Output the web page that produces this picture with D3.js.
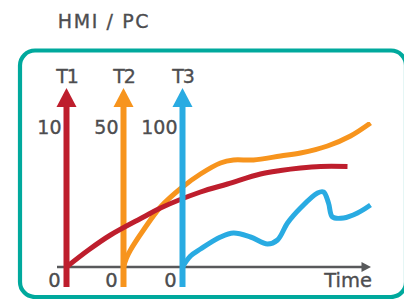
<!DOCTYPE html>
<html>
<head>
<meta charset="utf-8">
<script src="https://cdn.jsdelivr.net/npm/d3@7/dist/d3.min.js"></script>
<style>
html,body{margin:0;padding:0;background:#fff;}
svg{display:block;}
text{font-family:"DejaVu Sans",sans-serif;fill:#4d4d4f;stroke:#4d4d4f;stroke-width:0.35px;}
</style>
</head>
<body>
<svg id="chart" width="404" height="299"></svg>
<script>
// ---- data ----
const title = "HMI / PC";
const seriesNames = ["T1", "T2", "T3"];
const seriesMax = ["10", "50", "100"];
const seriesStart = [0, 57, 116];          // time at which each series starts
const seriesColors = ["#be1e2d", "#f7941d", "#29abe2"];
const axisLabel = "Time";
const zeroLabel = "0";

const t1Time  = [0, 22, 44, 77, 94, 134, 161, 194, 214, 234, 254, 281];
const t1Value = [0, 17, 32, 50, 59, 75, 83, 93, 96.5, 99, 100.5, 100.5];

const t2Time  = [57, 60, 64, 77, 94, 116, 134, 154, 167, 187, 214, 234, 261, 284, 304];
const t2Value = [0, 9, 17, 37, 60, 80, 93, 104, 107, 107, 111, 114, 121, 131, 144];

const t3Time  = [116, 124, 134, 154, 167, 184, 201, 211, 221, 234, 251, 257, 262, 266, 277, 291, 304];
const t3Value = [0, 11, 18, 30, 34, 30, 23, 27, 44, 59, 74, 75, 64, 50, 49, 54, 62];

// ---- drawing ----
const svg = d3.select("#chart");
const x = d3.scaleLinear().domain([0, 304.5]).range([66.5, 371]);
const y = d3.scaleLinear().domain([0, 150]).range([267, 117]);

// frame
svg.append("rect")
  .attr("x", 20).attr("y", 50.5)
  .attr("width", 386).attr("height", 246.5)
  .attr("rx", 15).attr("ry", 15)
  .attr("fill", "none")
  .attr("stroke", "#00a99d")
  .attr("stroke-width", 4.2);

// title
svg.append("text")
  .attr("x", 104).attr("y", 28)
  .attr("text-anchor", "middle")
  .attr("font-size", 19)
  .attr("letter-spacing", 1.6)
  .text(title);

// time axis
const axisY = y(0);
svg.append("line")
  .attr("x1", 57).attr("x2", 364)
  .attr("y1", axisY).attr("y2", axisY)
  .attr("stroke", "#58595b").attr("stroke-width", 2.6);
svg.append("path")
  .attr("d", `M${x(304.5)},${axisY} L${x(304.5)-9.5},${axisY-5} L${x(304.5)-9.5},${axisY+5} Z`)
  .attr("fill", "#58595b");
svg.append("text")
  .attr("x", 372).attr("y", 287)
  .attr("text-anchor", "end")
  .attr("font-size", 19.5)
  .text(axisLabel);

const line = d3.line()
  .x(d => x(d[0])).y(d => y(d[1]))
  .curve(d3.curveCatmullRom.alpha(0.5));

const series = [
  t1Time.map((t, i) => [t, t1Value[i]]),
  t2Time.map((t, i) => [t, t2Value[i]]),
  t3Time.map((t, i) => [t, t3Value[i]])
];

const apexY = 88, baseY = 107, shaftBottom = 287;

function drawShaft(i) {
  const cx = x(seriesStart[i]);
  svg.append("line")
    .attr("x1", cx).attr("x2", cx)
    .attr("y1", baseY - 1).attr("y2", shaftBottom)
    .attr("stroke", seriesColors[i]).attr("stroke-width", 6);
  svg.append("path")
    .attr("d", `M${cx},${apexY} L${cx-10},${baseY} L${cx+10},${baseY} Z`)
    .attr("fill", seriesColors[i]);
  svg.append("text")
    .attr("x", cx + 0.5).attr("y", 83)
    .attr("text-anchor", "middle")
    .attr("font-size", 19)
    .attr("letter-spacing", -1)
    .text(seriesNames[i]);
  svg.append("text")
    .attr("x", cx - 5).attr("y", 133.5)
    .attr("text-anchor", "end")
    .attr("font-size", 19)
    .text(seriesMax[i]);
  svg.append("text")
    .attr("x", cx - 12).attr("y", 286.5)
    .attr("text-anchor", "middle")
    .attr("font-size", 19.5)
    .text(zeroLabel);
}
function drawCurve(i) {
  svg.append("path")
    .attr("d", line(series[i]))
    .attr("fill", "none")
    .attr("stroke", seriesColors[i])
    .attr("stroke-width", 5)
    .attr("stroke-linecap", "butt");
}

drawShaft(0);
drawShaft(1);
drawCurve(1);
drawCurve(0);
drawShaft(2);
drawCurve(2);
</script>
</body>
</html>
